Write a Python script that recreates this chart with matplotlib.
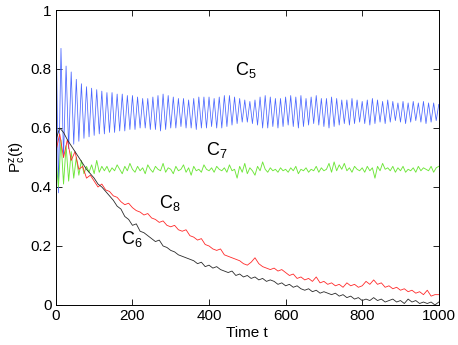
import numpy as np
import matplotlib
matplotlib.use("Agg")
import matplotlib.pyplot as plt

plt.rcParams['font.family'] = ['Liberation Sans', 'DejaVu Sans']
plt.rcParams['mathtext.default'] = 'regular'

# C5: alternating peaks / troughs of the oscillation
c5_peaks = [1.00, 0.87, 0.81, 0.79, 0.765, 0.75, 0.74, 0.735, 0.73, 0.725,
            0.72, 0.72, 0.715, 0.715, 0.71, 0.71, 0.705, 0.70, 0.70, 0.705,
            0.71, 0.715, 0.71, 0.705, 0.70, 0.70, 0.695, 0.70, 0.705, 0.705,
            0.705, 0.70, 0.705, 0.71, 0.71, 0.705, 0.70, 0.695, 0.69, 0.695,
            0.705, 0.71, 0.705, 0.70, 0.70, 0.705, 0.71, 0.705, 0.71, 0.70,
            0.705, 0.71, 0.70, 0.70, 0.705, 0.70, 0.695, 0.695, 0.70, 0.695,
            0.69, 0.695, 0.70, 0.695, 0.69, 0.695, 0.69, 0.685, 0.69, 0.685,
            0.69, 0.685, 0.69, 0.685, 0.685, 0.68]
c5_troughs = [0.38, 0.50, 0.53, 0.545, 0.555, 0.565, 0.57, 0.575, 0.58, 0.58,
              0.585, 0.585, 0.59, 0.59, 0.595, 0.595, 0.60, 0.60, 0.595, 0.595,
              0.59, 0.595, 0.60, 0.60, 0.605, 0.60, 0.60, 0.595, 0.60, 0.60,
              0.605, 0.60, 0.60, 0.605, 0.61, 0.615, 0.62, 0.62, 0.615, 0.61,
              0.60, 0.60, 0.605, 0.60, 0.605, 0.61, 0.605, 0.60, 0.605, 0.61,
              0.615, 0.61, 0.605, 0.60, 0.605, 0.61, 0.615, 0.61, 0.615, 0.62,
              0.615, 0.61, 0.615, 0.62, 0.615, 0.62, 0.625, 0.62, 0.615, 0.62,
              0.625, 0.62, 0.615, 0.62, 0.625]

# C7 sampled on the same grid as C5
c7 = [0.50, 0.40, 0.56, 0.41, 0.54, 0.42, 0.52, 0.43, 0.50, 0.44,
      0.49, 0.445, 0.47, 0.45, 0.475, 0.445, 0.49, 0.45, 0.47, 0.455, 0.47,
      0.45, 0.465, 0.455, 0.475, 0.46, 0.445, 0.47, 0.455, 0.48, 0.46,
      0.45, 0.47, 0.455, 0.465, 0.445, 0.475, 0.46, 0.45, 0.47, 0.46,
      0.455, 0.48, 0.45, 0.465, 0.46, 0.445, 0.47, 0.455, 0.46, 0.475,
      0.45, 0.465, 0.44, 0.47, 0.455, 0.46, 0.45, 0.475, 0.46, 0.455,
      0.465, 0.45, 0.47, 0.46, 0.455, 0.465, 0.45, 0.475, 0.455, 0.46,
      0.43, 0.47, 0.45, 0.48, 0.445, 0.465, 0.455, 0.44, 0.47, 0.455,
      0.485, 0.46, 0.45, 0.465, 0.455, 0.46, 0.45, 0.465, 0.455, 0.46,
      0.45, 0.465, 0.455, 0.47, 0.445, 0.46, 0.455, 0.465, 0.45, 0.46,
      0.455, 0.47, 0.45, 0.465, 0.455, 0.46, 0.48, 0.45, 0.485, 0.455,
      0.475, 0.46, 0.48, 0.455, 0.465, 0.45, 0.47, 0.46, 0.455, 0.465,
      0.45, 0.47, 0.455, 0.465, 0.43, 0.47, 0.455, 0.48, 0.46, 0.465,
      0.455, 0.47, 0.45, 0.465, 0.455, 0.47, 0.45, 0.46, 0.455, 0.465,
      0.45, 0.47, 0.455, 0.465, 0.46, 0.455, 0.47, 0.45, 0.465, 0.47]

# C8 and C6 every 10 time units
c8 = [0.52, 0.58, 0.50, 0.56, 0.49, 0.52, 0.46, 0.47, 0.43, 0.44,
      0.42, 0.40, 0.41, 0.39, 0.385, 0.37, 0.365, 0.35, 0.34, 0.345,
      0.33, 0.32, 0.315, 0.305, 0.31, 0.295, 0.29, 0.28, 0.285, 0.27,
      0.265, 0.27, 0.255, 0.25, 0.255, 0.235, 0.23, 0.22, 0.225, 0.205,
      0.20, 0.19, 0.185, 0.19, 0.17, 0.165, 0.16, 0.155, 0.15, 0.14,
      0.135, 0.145, 0.16, 0.14, 0.13, 0.125, 0.12, 0.125, 0.115, 0.12,
      0.11, 0.10, 0.105, 0.09, 0.095, 0.085, 0.09, 0.08, 0.095, 0.075,
      0.08, 0.07, 0.075, 0.065, 0.07, 0.06, 0.075, 0.065, 0.07, 0.06,
      0.065, 0.08, 0.07, 0.085, 0.07, 0.075, 0.06, 0.065, 0.055, 0.06,
      0.05, 0.055, 0.045, 0.05, 0.04, 0.045, 0.035, 0.05, 0.03, 0.035, 0.035]
c6 = [0.56, 0.60, 0.585, 0.56, 0.54, 0.52, 0.50, 0.48, 0.46, 0.445,
      0.43, 0.41, 0.40, 0.385, 0.37, 0.355, 0.335, 0.325, 0.30, 0.29,
      0.27, 0.275, 0.25, 0.245, 0.235, 0.225, 0.215, 0.22, 0.20, 0.195,
      0.185, 0.18, 0.17, 0.165, 0.16, 0.155, 0.15, 0.14, 0.145, 0.13,
      0.135, 0.125, 0.13, 0.12, 0.115, 0.11, 0.115, 0.10, 0.105, 0.095,
      0.10, 0.09, 0.095, 0.085, 0.09, 0.08, 0.085, 0.08, 0.07, 0.075,
      0.065, 0.07, 0.06, 0.065, 0.055, 0.05, 0.055, 0.045, 0.05, 0.04,
      0.045, 0.04, 0.035, 0.04, 0.03, 0.035, 0.025, 0.03, 0.02, 0.025,
      0.015, 0.02, 0.015, 0.025, 0.015, 0.02, 0.01, 0.015, 0.02, 0.01,
      0.015, 0.005, 0.02, 0.01, 0.015, 0.005, 0.01, 0.005, 0.01, 0.0, 0.01]

t_fine = np.linspace(0, 1000, 151)
t_coarse = np.linspace(0, 1000, 101)
c5 = np.empty(151)
c5[0::2] = c5_peaks
c5[1::2] = c5_troughs

fig = plt.figure(figsize=(4.58, 3.45), dpi=100)
ax = fig.add_axes([0.122, 0.116, 0.836, 0.855])

ax.plot(t_fine, c5, color='#4a66ff', lw=0.55)
ax.plot(t_fine, c7, color='#6ee63a', lw=0.65)
ax.plot(t_coarse, c8, color='#ff2a2a', lw=0.6)
ax.plot(t_coarse, c6, color='#2a2a2a', lw=0.6)

ax.text(468, 0.795, '$C_5$', fontsize=13, va='center')
ax.text(392, 0.525, '$C_7$', fontsize=13, va='center')
ax.text(270, 0.345, '$C_8$', fontsize=13, va='center')
ax.text(170, 0.225, '$C_6$', fontsize=13, va='center')

ax.set_xlim(0, 1000)
ax.set_ylim(0, 1)
ax.set_xticks([0, 200, 400, 600, 800, 1000])
ax.set_yticks([0, 0.2, 0.4, 0.6, 0.8, 1])
ax.set_yticklabels(['0', '0.2', '0.4', '0.6', '0.8', '1'])
ax.tick_params(direction='in', top=True, right=True, labelsize=11, length=4,
               width=0.6, pad=3)
for s in ax.spines.values():
    s.set_linewidth(0.7)
ax.set_xlabel('Time t', fontsize=11, labelpad=2)
ax.set_ylabel('$P^z_c(t)$', fontsize=11, labelpad=2)

fig.savefig('out.png', dpi=100)
